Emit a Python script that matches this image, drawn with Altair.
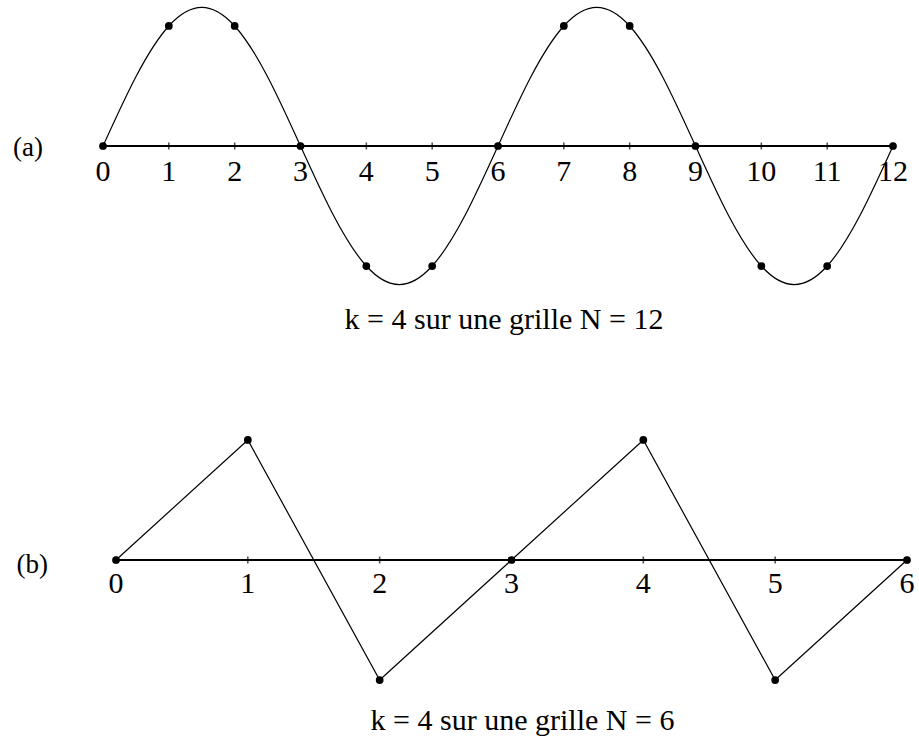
import altair as alt
import pandas as pd

# ---- Panel (a): k = 4 on a grid of N = 12 samples ----
grid_a = [0, 1, 2, 3, 4, 5, 6, 7, 8, 9, 10, 11, 12]
samples_a = [0, 0.866, 0.866, 0, -0.866, -0.866, 0, 0.866, 0.866, 0, -0.866, -0.866, 0]
# underlying continuous wave, given at half-step positions
curve_t = [0, 0.5, 1, 1.5, 2, 2.5, 3, 3.5, 4, 4.5, 5, 5.5, 6,
           6.5, 7, 7.5, 8, 8.5, 9, 9.5, 10, 10.5, 11, 11.5, 12]
curve_v = [0, 0.5, 0.866, 1, 0.866, 0.5, 0, -0.5, -0.866, -1, -0.866, -0.5, 0,
           0.5, 0.866, 1, 0.866, 0.5, 0, -0.5, -0.866, -1, -0.866, -0.5, 0]
caption_a = "k = 4 sur une grille N = 12"

# ---- Panel (b): k = 4 on a grid of N = 6 samples ----
grid_b = [0, 1, 2, 3, 4, 5, 6]
samples_b = [0, 0.866, -0.866, 0, 0.866, -0.866, 0]
caption_b = "k = 4 sur une grille N = 6"

FONT = "Liberation Serif"
W, H = 919, 369


def panel(grid, samples, caption, tag, x_range, y_range, curve=None,
          label_dy=35, cap_dx=6, cap_dy=44, tag_dx=-60, tag_dy=10):
    xs = alt.Scale(domain=[grid[0], grid[-1]], range=x_range)
    ys = alt.Scale(domain=[-1, 1], range=y_range)
    X = alt.X("x:Q", scale=xs, axis=None)
    Y = alt.Y("y:Q", scale=ys, axis=None)

    pts = pd.DataFrame({"x": grid, "y": samples})
    ticks = pd.DataFrame({"x": grid, "y": [0] * len(grid),
                          "label": [str(g) for g in grid]})
    base_df = pd.DataFrame({"x": [grid[0]], "x2": [grid[-1]], "y": [0]})

    axis_line = alt.Chart(base_df).mark_rule(color="black", strokeWidth=2).encode(
        x=X, x2="x2:Q", y=Y)
    tick_marks = alt.Chart(ticks).mark_tick(
        orient="vertical", size=7, thickness=1.5, color="black").encode(x=X, y=Y)
    tick_labels = alt.Chart(ticks).mark_text(
        font=FONT, fontSize=30, baseline="alphabetic", dy=label_dy,
        color="black").encode(x=X, y=Y, text="label:N")

    if curve is not None:
        wave = alt.Chart(pd.DataFrame({"x": curve[0], "y": curve[1]})).mark_line(
            color="black", strokeWidth=1.2, interpolate="natural").encode(x=X, y=Y)
    else:
        wave = alt.Chart(pts).mark_line(
            color="black", strokeWidth=1.2).encode(x=X, y=Y)

    dots = alt.Chart(pts).mark_circle(size=60, color="black", opacity=1).encode(x=X, y=Y)

    mid = (grid[0] + grid[-1]) / 2
    cap = alt.Chart(pd.DataFrame({"x": [mid], "y": [-1], "t": [caption]})).mark_text(
        font=FONT, fontSize=30, baseline="alphabetic", dx=cap_dx, dy=cap_dy,
        color="black").encode(x=X, y=Y, text="t:N")
    lab = alt.Chart(pd.DataFrame({"x": [grid[0]], "y": [0], "t": [tag]})).mark_text(
        font=FONT, fontSize=27, baseline="alphabetic", align="right",
        dx=tag_dx, dy=tag_dy, color="black").encode(x=X, y=Y, text="t:N")

    return alt.layer(axis_line, tick_marks, tick_labels, wave, dots, cap, lab).properties(
        width=W, height=H)


top = panel(grid_a, samples_a, caption_a, "(a)",
            x_range=[103, 893], y_range=[284.6, 7.4],
            curve=(curve_t, curve_v), label_dy=35, cap_dx=6, cap_dy=44,
            tag_dx=-60, tag_dy=10)
bottom = panel(grid_b, samples_b, caption_b, "(b)",
               x_range=[116, 907], y_range=[329.6, 52.4],
               label_dy=33, cap_dx=11, cap_dy=31, tag_dx=-68, tag_dy=13)

chart = alt.vconcat(top, bottom, spacing=0).properties(
    padding=0, background="white"
).configure_view(strokeWidth=0)

chart.save("out.html", embed_options={"renderer": "svg", "actions": False})
